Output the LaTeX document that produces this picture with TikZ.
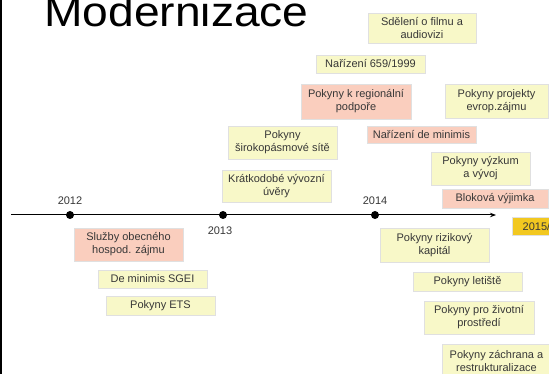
\documentclass[tikz,border=0pt]{standalone}
\usepackage{fontspec}
\setmainfont{Liberation Sans}
\usetikzlibrary{arrows.meta,shadows}
\definecolor{cardyellow}{RGB}{248,248,200}
\definecolor{cardred}{RGB}{250,206,190}
\definecolor{cardgold}{RGB}{242,200,32}
\definecolor{txt}{RGB}{55,55,55}
\tikzset{
  card/.style={fill=cardyellow, draw=black!12, line width=0.3pt, text=txt,
    font=\fontsize{11}{13}\selectfont, align=center, inner sep=0pt,
    drop shadow={shadow xshift=0.6pt, shadow yshift=-1pt, fill=black!45, opacity=0.9}},
  redcard/.style={card, fill=cardred},
  goldcard/.style={card, fill=cardgold},
  dot/.style={circle, fill=black, inner sep=0pt, minimum size=8pt},
  year/.style={text=txt, font=\fontsize{11}{13}\selectfont, inner sep=0pt},
}
\begin{document}
\begin{tikzpicture}[x=1pt,y=-1pt]
\useasboundingbox (0,0) rectangle (549,374);
\fill[white] (0,0) rectangle (549,374);
\draw[line width=1.6pt] (0.8,0) -- (0.8,374);
\node[anchor=base west, inner sep=0pt, font=\fontsize{42}{42}\selectfont, xscale=1.1] (title) at (44,27) {Modernizace};
% timeline
\coordinate (tstart) at (11,215);
\coordinate (tend) at (496,215);
\draw[line width=1pt, -{Stealth[length=6pt,width=4.5pt]}] (tstart) -- (tend);
\node[dot] (d2012) at (70,215) {};
\node[dot] (d2013) at (223,215) {};
\node[dot] (d2014) at (375,215) {};
\node[year] (y2012) at (70,201) {2012};
\node[year] (y2014) at (375,201) {2014};
\node[year] (y2013) at (220,231) {2013};
% upper cards
\node[card, minimum width=108pt, minimum height=30pt] (sdeleni) at (422,28) {Sdělení o filmu a\\audiovizi};
\node[card, minimum width=109pt, minimum height=18pt] (nar659) at (370.5,64) {Nařízení 659/1999};
\node[redcard, minimum width=110pt, minimum height=35pt] (regional) at (356,101.5) {Pokyny k regionální\\podpoře};
\node[card, minimum width=103pt, minimum height=34pt] (projekty) at (496.5,101) {Pokyny projekty\\evrop.zájmu};
\node[card, minimum width=109pt, minimum height=33pt] (siroko) at (282.5,142.5) {Pokyny\\širokopásmové sítě};
\node[redcard, minimum width=109pt, minimum height=17pt] (deminimis) at (421.5,134.5) {Nařízení de minimis};
\node[card, minimum width=99pt, minimum height=33pt] (vyzkum) at (480.5,168.5) {Pokyny výzkum\\a vývoj};
\node[card, minimum width=109pt, minimum height=32pt] (kratkodobe) at (276.5,186) {Krátkodobé vývozní\\úvěry};
\node[redcard, minimum width=106pt, minimum height=19pt] (blokova) at (495,198.5) {Bloková výjimka};
\node[goldcard, minimum width=50pt, minimum height=18pt, anchor=north west, text width=44pt, align=left] (y2015) at (512,217) {\hspace*{7.5pt}2015/};
% lower cards
\node[redcard, minimum width=109pt, minimum height=33pt] (sluzby) at (128.5,244.5) {Služby obecného\\hospod. zájmu};
\node[card, minimum width=109pt, minimum height=18pt] (sgei) at (152.5,279) {De minimis SGEI};
\node[card, minimum width=109pt, minimum height=19pt] (ets) at (160.5,305.5) {Pokyny ETS};
\node[card, minimum width=109pt, minimum height=34pt] (rizikovy) at (434.5,245) {Pokyny rizikový\\kapitál};
\node[card, minimum width=109pt, minimum height=19pt] (letiste) at (467.5,281.5) {Pokyny letiště};
\node[card, minimum width=110pt, minimum height=33pt] (zivotni) at (479,317.5) {Pokyny pro životní\\prostředí};
\node[card, minimum width=109pt, minimum height=34pt] (zachrana) at (496.5,361) {Pokyny záchrana a\\restrukturalizace};
\end{tikzpicture}
\end{document}
